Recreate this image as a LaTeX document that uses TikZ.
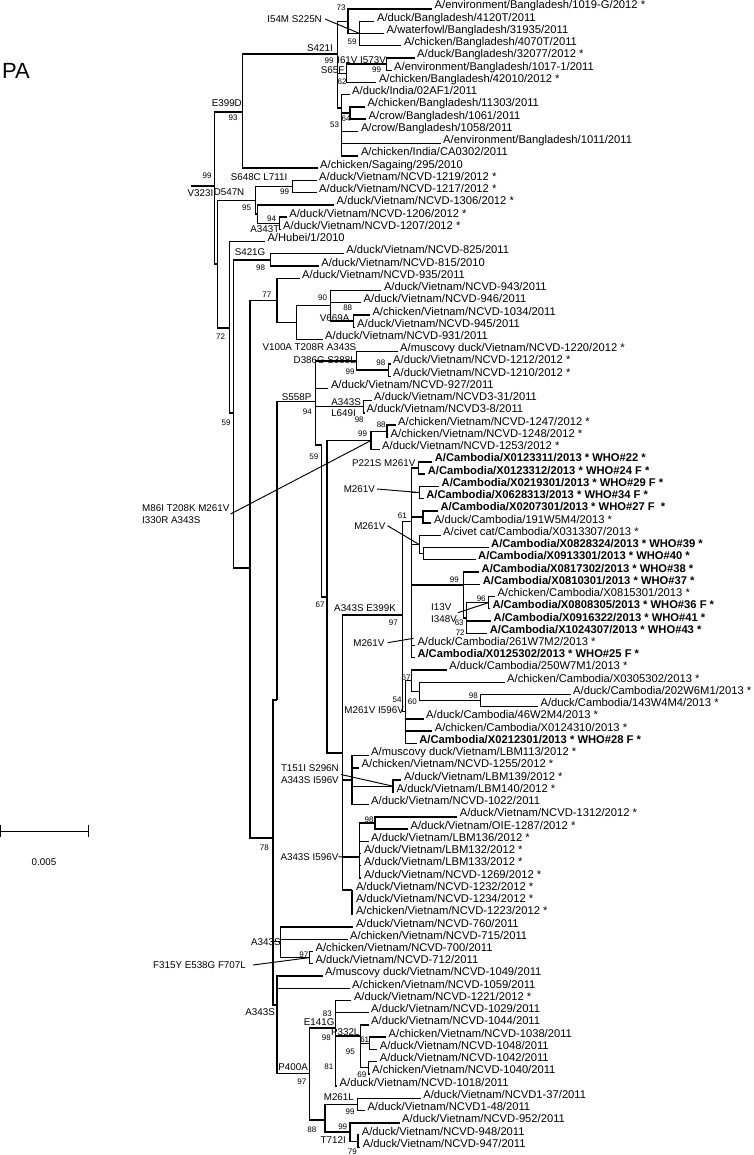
\documentclass[tikz,border=0pt]{standalone}
\usepackage{fontspec}
\setmainfont{Liberation Sans}
\usetikzlibrary{calc}
\def\leaf#1#2#3#4{\coordinate (#1) at (#2,{9+12.24*(#3-1)}); \node[lab] (#1t) at (#1) {#4};}
\def\leafb#1#2#3#4{\coordinate (#1) at (#2,{9+12.24*(#3-1)}); \node[lab,labb] (#1t) at (#1) {#4};}
\def\bs#1(#2,#3)#4{\node[bsl] (#1) at (#2,#3) {#4};}
\def\mut#1(#2,#3)#4{\node[mutl] (#1) at (#2,#3) {#4};}

\begin{document}
\begin{tikzpicture}[x=1pt,y=-1pt,
  br/.style={line width=1.35pt},
  ptr/.style={line width=0.95pt},
  lab/.style={anchor=base west,inner sep=0pt,xshift=2.5pt,font=\fontsize{11.2}{13}\selectfont},
  labb/.style={font=\fontsize{11.2}{13}\selectfont\bfseries},
  bsl/.style={inner sep=0pt,font=\fontsize{8}{9}\selectfont},
  mutl/.style={anchor=east,inner sep=0pt,font=\fontsize{9.8}{12}\selectfont}]
\useasboundingbox (0,0) rectangle (753,1155);

%%%%% LEAVES %%%%%
\leaf{l1}{432}{1}{A/environment/Bangladesh/1019-G/2012 *}
\leaf{l2}{374.4}{2}{A/duck/Bangladesh/4120T/2011}
\leaf{l3}{384}{3}{A/waterfowl/Bangladesh/31935/2011}
\leaf{l4}{401.3}{4}{A/chicken/Bangladesh/4070T/2011}
\leaf{l5}{414.5}{5}{A/duck/Bangladesh/32077/2012 *}
\leaf{l6}{391.5}{6}{A/environment/Bangladesh/1017-1/2011}
\leaf{l7}{376.3}{7}{A/chicken/Bangladesh/42010/2012 *}
\leaf{l8}{349.5}{8}{A/duck/India/02AF1/2011}
\leaf{l9}{364.8}{9}{A/chicken/Bangladesh/11303/2011}
\leaf{l10}{366}{10}{A/crow/Bangladesh/1061/2011}
\leaf{l11}{358.3}{11}{A/crow/Bangladesh/1058/2011}
\leaf{l12}{440.5}{12}{A/environment/Bangladesh/1011/2011}
\leaf{l13}{358.3}{13}{A/chicken/India/CA0302/2011}
\leaf{l14}{317.5}{14}{A/chicken/Sagaing/295/2010}
\leaf{l15}{316.5}{15}{A/duck/Vietnam/NCVD-1219/2012 *}
\leaf{l16}{316.5}{16}{A/duck/Vietnam/NCVD-1217/2012 *}
\leaf{l17}{334}{17}{A/duck/Vietnam/NCVD-1306/2012 *}
\leaf{l18}{286.7}{18}{A/duck/Vietnam/NCVD-1206/2012 *}
\leaf{l19}{280.5}{19}{A/duck/Vietnam/NCVD-1207/2012 *}
\leaf{l20}{264.8}{20}{A/Hubei/1/2010}
\leaf{l21}{343.7}{21}{A/duck/Vietnam/NCVD-825/2011}
\leaf{l22}{318.7}{22}{A/duck/Vietnam/NCVD-815/2010}
\leaf{l23}{299.5}{23}{A/duck/Vietnam/NCVD-935/2011}
\leaf{l24}{381.3}{24}{A/duck/Vietnam/NCVD-943/2011}
\leaf{l25}{361}{25}{A/duck/Vietnam/NCVD-946/2011}
\leaf{l26}{369.8}{26}{A/chicken/Vietnam/NCVD-1034/2011}
\leaf{l27}{354.5}{27}{A/duck/Vietnam/NCVD-945/2011}
\leaf{l28}{322.5}{28}{A/duck/Vietnam/NCVD-931/2011}
\leaf{l29}{397.5}{29}{A/muscovy duck/Vietnam/NCVD-1220/2012 *}
\leaf{l30}{390.5}{30}{A/duck/Vietnam/NCVD-1212/2012 *}
\leaf{l31}{390.5}{31}{A/duck/Vietnam/NCVD-1210/2012 *}
\leaf{l32}{328.3}{32}{A/duck/Vietnam/NCVD-927/2011}
\leaf{l33}{371.5}{33}{A/duck/Vietnam/NCVD3-31/2011}
\leaf{l34}{364}{34}{A/duck/Vietnam/NCVD3-8/2011}
\leaf{l35}{395.5}{35}{A/chicken/Vietnam/NCVD-1247/2012 *}
\leaf{l36}{388}{36}{A/chicken/Vietnam/NCVD-1248/2012 *}
\leaf{l37}{379.5}{37}{A/duck/Vietnam/NCVD-1253/2012 *}
\leafb{l38}{432.1}{38}{A/Cambodia/X0123311/2013 * WHO\#22 *}
\leafb{l39}{425.2}{39}{A/Cambodia/X0123312/2013 * WHO\#24 F *}
\leafb{l40}{439}{40}{A/Cambodia/X0219301/2013 * WHO\#29 F *}
\leafb{l41}{423.7}{41}{A/Cambodia/X0628313/2013 * WHO\#34 F *}
\leafb{l42}{437.9}{42}{A/Cambodia/X0207301/2013 * WHO\#27 F\ \ *}
\leaf{l43}{431.3}{43}{A/duck/Cambodia/191W5M4/2013 *}
\leaf{l44}{440.5}{44}{A/civet cat/Cambodia/X0313307/2013 *}
\leafb{l45}{488.5}{45}{A/Cambodia/X0828324/2013 * WHO\#39 *}
\leafb{l46}{475.5}{46}{A/Cambodia/X0913301/2013 * WHO\#40 *}
\leafb{l47}{479}{47}{A/Cambodia/X0817302/2013 * WHO\#38 *}
\leafb{l48}{480.2}{48}{A/Cambodia/X0810301/2013 * WHO\#37 *}
\leaf{l49}{494.8}{49}{A/chicken/Cambodia/X0815301/2013 *}
\leafb{l50}{489.8}{50}{A/Cambodia/X0808305/2013 * WHO\#36 F *}
\leafb{l51}{491}{51}{A/Cambodia/X0916322/2013 * WHO\#41 *}
\leafb{l52}{487.1}{52}{A/Cambodia/X1024307/2013 * WHO\#43 *}
\leaf{l53}{414.8}{53}{A/duck/Cambodia/261W7M2/2013 *}
\leafb{l54}{414.8}{54}{A/Cambodia/X0125302/2013 * WHO\#25 F *}
\leaf{l55}{446.7}{55}{A/duck/Cambodia/250W7M1/2013 *}
\leaf{l56}{504.5}{56}{A/chicken/Cambodia/X0305302/2013 *}
\leaf{l57}{570.5}{57}{A/duck/Cambodia/202W6M1/2013 *}
\leaf{l58}{537.9}{58}{A/duck/Cambodia/143W4M4/2013 *}
\leaf{l59}{423.5}{59}{A/duck/Cambodia/46W2M4/2013 *}
\leaf{l60}{432.1}{60}{A/chicken/Cambodia/X0124310/2013 *}
\leafb{l61}{416.7}{61}{A/Cambodia/X0212301/2013 * WHO\#28 F *}
\leaf{l62}{368.5}{62}{A/muscovy duck/Vietnam/LBM113/2012 *}
\leaf{l63}{359}{63}{A/chicken/Vietnam/NCVD-1255/2012 *}
\leaf{l64}{401.3}{64}{A/duck/Vietnam/LBM139/2012 *}
\leaf{l65}{394}{65}{A/duck/Vietnam/LBM140/2012 *}
\leaf{l66}{368.5}{66}{A/duck/Vietnam/NCVD-1022/2011}
\leaf{l67}{457.1}{67}{A/duck/Vietnam/NCVD-1312/2012 *}
\leaf{l68}{407.9}{68}{A/duck/Vietnam/OIE-1287/2012 *}
\leaf{l69}{368.5}{69}{A/duck/Vietnam/LBM136/2012 *}
\leaf{l70}{361.3}{70}{A/duck/Vietnam/LBM132/2012 *}
\leaf{l71}{361.3}{71}{A/duck/Vietnam/LBM133/2012 *}
\leaf{l72}{361.3}{72}{A/duck/Vietnam/NCVD-1269/2012 *}
\leaf{l73}{353.3}{73}{A/duck/Vietnam/NCVD-1232/2012 *}
\leaf{l74}{353.3}{74}{A/duck/Vietnam/NCVD-1234/2012 *}
\leaf{l75}{353.3}{75}{A/chicken/Vietnam/NCVD-1223/2012 *}
\leaf{l76}{353.3}{76}{A/duck/Vietnam/NCVD-760/2011}
\leaf{l77}{347.5}{77}{A/chicken/Vietnam/NCVD-715/2011}
\leaf{l78}{312.9}{78}{A/chicken/Vietnam/NCVD-700/2011}
\leaf{l79}{312.9}{79}{A/duck/Vietnam/NCVD-712/2011}
\leaf{l80}{322.5}{80}{A/muscovy duck/Vietnam/NCVD-1049/2011}
\leaf{l81}{349.5}{81}{A/chicken/Vietnam/NCVD-1059/2011}
\leaf{l82}{351.3}{82}{A/duck/Vietnam/NCVD-1221/2012 *}
\leaf{l83}{368.5}{83}{A/duck/Vietnam/NCVD-1029/2011}
\leaf{l84}{368.5}{84}{A/duck/Vietnam/NCVD-1044/2011}
\leaf{l85}{386}{85}{A/chicken/Vietnam/NCVD-1038/2011}
\leaf{l86}{377.1}{86}{A/duck/Vietnam/NCVD-1048/2011}
\leaf{l87}{377.1}{87}{A/duck/Vietnam/NCVD-1042/2011}
\leaf{l88}{369.5}{88}{A/chicken/Vietnam/NCVD-1040/2011}
\leaf{l89}{337}{89}{A/duck/Vietnam/NCVD-1018/2011}
\leaf{l90}{420.7}{90}{A/duck/Vietnam/NCVD1-37/2011}
\leaf{l91}{364.8}{91}{A/duck/Vietnam/NCVD1-48/2011}
\leaf{l92}{399.5}{92}{A/duck/Vietnam/NCVD-952/2011}
\leaf{l93}{359.2}{93}{A/duck/Vietnam/NCVD-948/2011}
\leaf{l94}{360.2}{94}{A/duck/Vietnam/NCVD-947/2011}

%%%%% INNER NODES %%%%%
\coordinate (root) at (191.2,186);
\coordinate (nH1) at (214.2,186);
\coordinate (nG) at (242.7,112);
\coordinate (bdS) at (337.3,54);
\coordinate (bdA) at (348,21.2);
\coordinate (bdB) at (359.6,33.5);
\coordinate (bdC) at (346.2,73.3);
\coordinate (bdD) at (386.5,64.1);
\coordinate (bdF) at (341.2,108);
\coordinate (bdE) at (350,113);
\coordinate (nH2) at (217.3,264);
\coordinate (vnJ) at (255.8,200.3);
\coordinate (vnI) at (292.3,186.5);
\coordinate (vnK) at (257.7,214);
\coordinate (vnL) at (279.6,223.2);
\coordinate (n229) at (229.6,328);
\coordinate (n234) at (233.8,413);
\coordinate (vnM) at (270.4,260);
\coordinate (B250) at (250,568);
\coordinate (T) at (276.9,300.4);
\coordinate (U) at (296.2,322.6);
\coordinate (V) at (330.8,305.8);
\coordinate (W) at (353.8,321.1);
\coordinate (Q) at (273,838);
\coordinate (K277) at (276.9,700);
\coordinate (Z) at (315.4,401.7);
\coordinate (Xn) at (356.5,360.9);
\coordinate (vnN) at (388.5,370.1);
\coordinate (AA) at (363.5,406.8);
\coordinate (N321) at (321.5,445);
\coordinate (N327) at (326.9,597);
\coordinate (AB) at (371,440.5);
\coordinate (AC) at (387,431.3);
\coordinate (N342) at (342.3,753);
\coordinate (CB) at (402.7,615);
\coordinate (CA) at (411.5,521.7);
\coordinate (AF) at (418.5,468);
\coordinate (AG) at (419.2,492.5);
\coordinate (AH) at (423,517);
\coordinate (CAc) at (419.2,544.5);
\coordinate (AI) at (423.8,553.7);
\coordinate (AJ) at (463.5,585);
\coordinate (AL) at (466.5,617.9);
\coordinate (AK) at (488.5,602.6);
\coordinate (CC) at (405.8,711.8);
\coordinate (CF) at (411.5,680.6);
\coordinate (CD) at (419.2,691.4);
\coordinate (CE) at (480.8,700.6);
\coordinate (LB) at (352,780);
\coordinate (LB2) at (393,786.2);
\coordinate (LC) at (359.6,857);
\coordinate (LC1) at (375,823);
\coordinate (LD) at (352,890);
\coordinate (NN) at (280.8,941.7);
\coordinate (N7879) at (309.6,957.6);
\coordinate (MM) at (276.9,1005);
\coordinate (P4) at (309.6,1073.5);
\coordinate (E) at (335.8,1028);
\coordinate (P) at (360.8,1036);
\coordinate (R1) at (369.2,1043.3);
\coordinate (R2) at (368.5,1067.8);
\coordinate (M) at (325,1120);
\coordinate (S90) at (357.7,1104.5);
\coordinate (S92) at (350,1132);
\coordinate (S94) at (358,1141.2);
\coordinate (m3end) at (413.5,638.3);
\coordinate (n342b) at (342.3,857);

%%%%% BRANCHES %%%%%
\foreach \a/\b in {root/nH1,nH1/nG,nH1/nH2,nG/bdS,nG/l14,
  bdS/bdA,bdS/bdC,bdS/bdF,bdA/l1,bdA/bdB,bdB/l2,bdB/l3,bdB/l4,
  bdC/bdD,bdC/l7,bdD/l5,bdD/l6,bdF/l8,bdF/bdE,bdF/l11,bdF/l12,bdF/l13,bdE/l9,bdE/l10,
  nH2/vnJ,nH2/n229,vnJ/vnI,vnJ/vnK,vnI/l15,vnI/l16,vnK/l17,vnK/vnL,vnL/l18,vnL/l19,
  n229/l20,n229/n234,n234/vnM,n234/B250,vnM/l21,vnM/l22,
  B250/T,B250/Q,T/l23,T/U,U/V,U/l28,V/l24,V/l25,V/W,W/l26,W/l27,
  Q/K277,Q/NN,Q/MM,K277/Z,Z/Xn,Z/l32,Z/AA,Z/N321,Xn/l29,Xn/vnN,vnN/l30,vnN/l31,
  AA/l33,AA/l34,N321/N327,N327/AB,N327/N342,AB/AC,AB/l37,AC/l35,AC/l36,
  N342/CB,N342/LB,N342/LC,N342/LD,CB/CA,CB/CC,
  CA/AF,CA/AG,CA/AH,CA/CAc,CA/AJ,CA/l53,CA/l54,AF/l38,AF/l39,AG/l40,AG/l41,
  AH/l42,AH/l43,CAc/l44,CAc/AI,AI/l45,AI/l46,AJ/l47,AJ/l48,AJ/AL,
  AL/AK,AL/l51,AL/l52,AK/l49,AK/l50,
  CC/CF,CC/l59,CC/l60,CC/l61,CF/l55,CF/CD,CD/l56,CD/CE,CE/l57,CE/l58,
  LB/l62,LB/l63,LB/LB2,LB/l66,LB2/l64,LB2/l65,
  LC/LC1,LC/l69,LC/l70,LC/l71,LC/l72,LC1/l67,LC1/l68,LD/l73,LD/l74,LD/l75,
  NN/l76,NN/l77,NN/N7879,N7879/l78,N7879/l79,
  MM/l80,MM/l81,MM/P4,P4/E,P4/M,E/l82,E/l83,E/P,E/l89,
  P/l84,P/R1,P/R2,R1/l85,R1/l86,R2/l87,R2/l88,
  M/S90,M/S92,S90/l90,S90/l91,S92/l92,S92/S94,S94/l93,S94/l94}
  \draw[br] (\a) |- (\b);

%%%%% BOOTSTRAP %%%%%
\bs{b1}(341,8){73}
\bs{b2}(352,42){59}
\bs{b3}(329,61){99}
\bs{b4}(376.5,70){99}
\bs{b5}(342,82){62}
\bs{b6}(346,119){64}
\bs{b7}(334.6,125){53}
\bs{b8}(233,118){93}
\bs{b9}(207,176){99}
\bs{b10}(284.6,192){99}
\bs{b11}(246.5,208){95}
\bs{b12}(271.5,219){94}
\bs{b13}(260.6,268){98}
\bs{b14}(220.5,337){72}
\bs{b15}(266.8,295){77}
\bs{b16}(322.5,297.7){90}
\bs{b17}(347.7,307.7){88}
\bs{b18}(380.8,363){98}
\bs{b19}(350,371.7){99}
\bs{b20}(307.3,411.7){94}
\bs{b21}(359.2,420){98}
\bs{b22}(381.2,424.3){88}
\bs{b23}(362.5,433.3){99}
\bs{b24}(226,423){59}
\bs{b25}(313.8,456.7){59}
\bs{b26}(402.3,515.7){61}
\bs{b27}(454.3,580){99}
\bs{b28}(481.2,598.3){96}
\bs{b29}(459.2,622.7){63}
\bs{b30}(460.2,632.3){72}
\bs{b31}(320,605){67}
\bs{b32}(393.3,623){97}
\bs{b33}(406,677.3){67}
\bs{b34}(397,699.3){54}
\bs{b35}(412.3,701.7){60}
\bs{b36}(473.3,696){98}
\bs{b37}(369,819.3){98}
\bs{b38}(264.3,847.3){78}
\bs{b39}(303.8,955){97}
\bs{b40}(327.3,1013.3){83}
\bs{b41}(326.4,1037.3){98}
\bs{b42}(364.7,1040){61}
\bs{b43}(350.3,1051.7){95}
\bs{b44}(328.8,1066.7){81}
\bs{b45}(361.8,1074.3){69}
\bs{b46}(301.9,1081.7){97}
\bs{b47}(350,1111.7){99}
\bs{b48}(342.7,1126.7){99}
\bs{b49}(311.8,1130){88}
\bs{b50}(352.3,1151.7){79}

%%%%% MUTATIONS %%%%%
\mut{mI54M}(322,19){I54M S225N}
\mut{mS421I}(333,48){S421I}
\mut{mI61V}(386,60){I61V I573V}
\mut{mS65F}(344.5,70){S65F}
\mut{mE399D}(242,103){E399D}
\mut{mS648C}(287.5,177){S648C L711I}
\mut{mV323I}(213.5,193){V323I}
\mut{mD547N}(244.5,192.5){D547N}
\mut{mA343T}(279.5,229){A343T}
\mut{mS421G}(265.5,252){S421G}
\mut{mV669A}(349.5,318){V669A}
\mut{mV100A}(356.5,347.3){V100A T208R A343S}
\mut{mD386G}(356,360){D386G S388L}
\mut{mS558P}(311.5,396.7){S558P}
\mut{mA343Sa}(361,401.7){A343S}
\mut{mL649I}(356,413.3){L649I}
\mut{mP221S}(415.5,462.7){P221S M261V}
\mut{mM261Va}(375,489){M261V}
\mut{mM261Vb}(385.5,525.7){M261V}
\mut{mA343Sb}(396,608.3){A343S E399K}
\mut{mM261Vc}(384.6,642.7){M261V}
\mut{mM261Vd}(404,710){M261V I596V}
\mut{mA343Sc}(338.5,856.7){A343S I596V}
\mut{mA343Sd}(280.8,942.3){A343S}
\mut{mF315Y}(246,965){F315Y E538G F707L}
\mut{mA343Se}(275,1011.7){A343S}
\mut{mE141G}(334.6,1021.7){E141G}
\mut{mP332L}(359.6,1031.7){P332L}
\mut{mP400A}(308,1066.7){P400A}
\mut{mM261L}(354,1096.7){M261L}
\mut{mT712I}(346,1140){T712I}
\node[mutl,anchor=west,align=left] (mM86I) at (142,514) {M86I T208K M261V\\I330R A343S};
\node[mutl,anchor=west,align=left] (mT151I) at (280.8,774.5) {T151I S296N\\A343S I596V};
\node[mutl,anchor=west,align=left] (mI13V) at (431,612.7) {I13V\\I348V};

\draw[ptr] ([xshift=3pt]mI54M.east) -- (bdB);
\draw[ptr] ([xshift=1pt]mM86I.east) -- (AB);
\draw[ptr] ([xshift=2pt]mM261Va.east) -- (AG);
\draw[ptr] ([xshift=2pt]mM261Vb.east) -- (CAc);
\draw[ptr] ([xshift=1pt]mI13V.east) -- (AK);
\draw[ptr] ([xshift=3pt]mM261Vc.east) -- (m3end);
\draw[ptr] ([xshift=2pt]mT151I.east) -- (LB2);
\draw[ptr] (mA343Sc.east) -- (n342b);
\draw[ptr] ([xshift=7pt]mF315Y.east) -- (N7879);

%%%%% TITLE AND SCALE %%%%%
\node[anchor=north west,inner sep=0pt,font=\fontsize{22}{22}\selectfont] (pa) at (2,63) {PA};
\coordinate (sbl) at (0.6,831);
\coordinate (sbr) at (88,831);
\draw[line width=0.9pt] (sbl) -- (sbr);
\draw[line width=0.9pt] ([yshift=-6pt]sbl) -- ([yshift=6pt]sbl);
\draw[line width=0.9pt] ([yshift=-6pt]sbr) -- ([yshift=6pt]sbr);
\node[inner sep=0pt,font=\fontsize{9.8}{12}\selectfont] (sbt) at (44,862) {0.005};
\end{tikzpicture}
\end{document}
